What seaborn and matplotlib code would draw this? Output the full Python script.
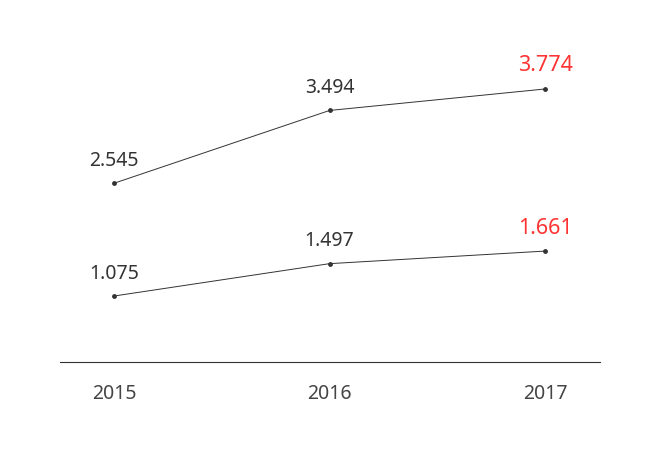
import matplotlib
matplotlib.use("Agg")
import matplotlib.pyplot as plt
import seaborn as sns
import pandas as pd

years = ["2015", "2016", "2017"]
upper = [2.545, 3.494, 3.774]
lower = [1.075, 1.497, 1.661]

sns.set_theme(style="white")
plt.rcParams['font.family'] = ['Noto Sans', 'DejaVu Sans']

df = pd.DataFrame({
    "x": list(range(len(years))) * 2,
    "value": upper + lower,
    "series": ["upper"] * len(years) + ["lower"] * len(years),
})

fig = plt.figure(figsize=(6.6, 4.53), dpi=100)
ax = fig.add_axes([60/660, 1 - 362/453, 540/660, 362/453])

sns.lineplot(data=df, x="x", y="value", units="series", estimator=None,
             color="#333333", linewidth=0.7, marker="o", markersize=3.5,
             markeredgewidth=0, ax=ax, legend=False)

# value labels, last year in red and a bit bigger
for vals in (upper, lower):
    for i, v in enumerate(vals):
        last = i == len(vals) - 1
        ax.annotate(f"{v:.3f}", (i, v), xytext=(0, 9), textcoords="offset points",
                    ha="center", va="bottom", fontsize=15.5 if last else 14,
                    color="#ff3333" if last else "#333333")

ax.set_xlim(-0.2506, 2.255)
ax.set_ylim(0.215, 4.934)
ax.set_xticks(range(len(years)))
ax.set_xticklabels(years)
ax.tick_params(axis="x", length=0, pad=16, labelsize=14, labelcolor="#444444")
ax.set_yticks([])
ax.set_xlabel("")
ax.set_ylabel("")
for s in ["top", "left", "right"]:
    ax.spines[s].set_visible(False)
ax.spines["bottom"].set_color("#333333")
ax.spines["bottom"].set_linewidth(0.8)

fig.savefig("out.png", dpi=100)
